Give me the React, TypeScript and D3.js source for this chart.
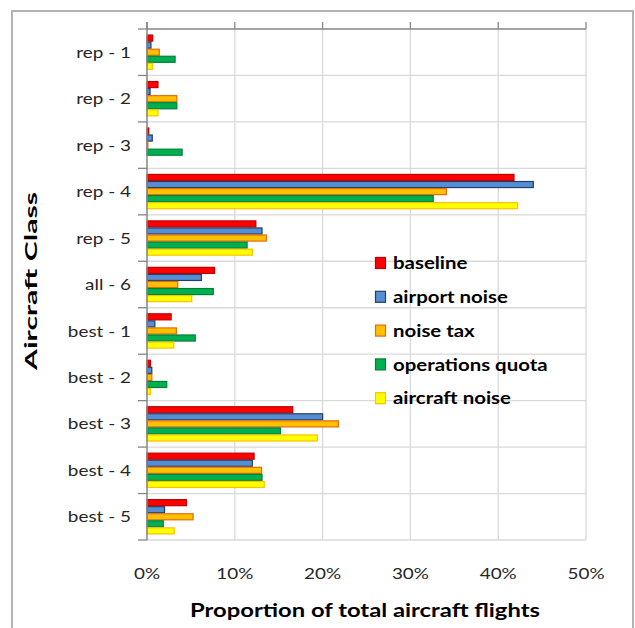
import React from "react";
import * as d3 from "d3";

// Aircraft classes, top to bottom
const categories = [
  "rep - 1", "rep - 2", "rep - 3", "rep - 4", "rep - 5", "all - 6",
  "best - 1", "best - 2", "best - 3", "best - 4", "best - 5",
];

const seriesNames = ["baseline", "airport noise", "noise tax", "operations quota", "aircraft noise"];

// Share of total flights (%) per class, one array per scenario
const baseline = [0.65, 1.25, 0.2, 41.8, 12.4, 7.7, 2.75, 0.4, 16.6, 12.2, 4.5];
const airportNoise = [0.45, 0.35, 0.6, 44.0, 13.1, 6.2, 0.9, 0.55, 20.0, 12.0, 2.0];
const noiseTax = [1.4, 3.4, 0.1, 34.1, 13.6, 3.5, 3.35, 0.55, 21.8, 13.05, 5.25];
const operationsQuota = [3.2, 3.4, 4.0, 32.6, 11.4, 7.55, 5.5, 2.25, 15.2, 13.1, 1.85];
const aircraftNoise = [0.6, 1.25, 0.0, 42.2, 12.0, 5.1, 3.05, 0.4, 19.4, 13.35, 3.1];

const xTicks = [0, 10, 20, 30, 40, 50];

const seriesValues = [baseline, airportNoise, noiseTax, operationsQuota, aircraftNoise];
const fills = ["#ff0000", "#558ed5", "#ffc000", "#00b050", "#ffff00"];
const strokes = ["#c00000", "#254061", "#e46c0a", "#00803a", "#ffc000"];

const W = 635;
const H = 628;
const plot = { left: 147, right: 586, top: 29, bottom: 540 };
const FONT = "Lato, 'Open Sans', sans-serif";

export default function App() {
  const x = d3.scaleLinear().domain([0, 50]).range([plot.left, plot.right]);
  const y = d3
    .scaleBand<string>()
    .domain(categories)
    .range([plot.top, plot.bottom])
    .paddingInner(0.24)
    .paddingOuter(0.12);
  const inner = d3
    .scaleBand<string>()
    .domain(seriesNames)
    .range([0, y.bandwidth()]);
  const step = (plot.bottom - plot.top) / categories.length;
  const boundaries = d3.range(categories.length + 1).map((i) => plot.top + i * step);

  const legendX = 375;
  const legendY0 = 263;
  const legendStep = 33.8;

  return (
    <svg
      width={W}
      height={H}
      style={{ position: "absolute", left: 0, top: 0, background: "#fff" }}
      fontFamily={FONT}
    >
      <rect x={0} y={0} width={W} height={H} fill="#fff" />
      {/* outer chart frame */}
      <rect x={12} y={11} width={621} height={640} fill="none" stroke="#b3b3b3" strokeWidth={2} />

      {/* gridlines */}
      {xTicks.slice(1).map((t) => (
        <line key={"gx" + t} x1={x(t)} x2={x(t)} y1={plot.top} y2={plot.bottom} stroke="#d9d9d9" strokeWidth={1.3} />
      ))}
      {boundaries.slice(1).map((b, i) => (
        <line key={"gy" + i} x1={plot.left} x2={plot.right} y1={b} y2={b} stroke="#d9d9d9" strokeWidth={1.3} />
      ))}

      {/* bars */}
      {seriesNames.map((s, si) =>
        categories.map((c, ci) => {
          const v = seriesValues[si][ci];
          if (v <= 0) return null;
          const y0 = (y(c) as number) + (inner(s) as number);
          return (
            <rect
              key={s + c}
              x={x(0)}
              y={y0 + 0.5}
              width={x(v) - x(0)}
              height={inner.bandwidth() - 1}
              fill={fills[si]}
              stroke={strokes[si]}
              strokeWidth={1.2}
            />
          );
        })
      )}

      {/* value axis drawn along the top, with ticks pointing up */}
      <line x1={plot.left} x2={plot.right} y1={plot.top} y2={plot.top} stroke="#868686" strokeWidth={1.5} />
      {xTicks.map((t) => (
        <line key={"tx" + t} x1={x(t)} x2={x(t)} y1={plot.top - 7} y2={plot.top} stroke="#868686" strokeWidth={1.3} />
      ))}
      {/* category axis */}
      <line x1={plot.left} x2={plot.left} y1={plot.top - 7} y2={plot.bottom} stroke="#868686" strokeWidth={1.5} />
      {boundaries.map((b, i) => (
        <line key={"ty" + i} x1={plot.left - 9} x2={plot.left} y1={b} y2={b} stroke="#868686" strokeWidth={1.3} />
      ))}

      {/* category labels */}
      {categories.map((c) => (
        <text
          key={"l" + c}
          transform={`translate(131, ${(y(c) as number) + y.bandwidth() / 2}) scale(1.22, 1)`}
          dy="0.36em"
          textAnchor="end"
          fontSize={15.5}
          fill="#262626"
        >
          {c}
        </text>
      ))}

      {/* tick labels */}
      {xTicks.map((t) => (
        <text
          key={"xl" + t}
          transform={`translate(${x(t)}, 579) scale(1.26, 1)`}
          textAnchor="middle"
          fontSize={15}
          fill="#262626"
        >
          {t + "%"}
        </text>
      ))}

      {/* axis titles */}
      <text
        x={365}
        y={617}
        textAnchor="middle"
        fontSize={18.5}
        fontWeight="bold"
        fill="#000"
        textLength={350}
        lengthAdjust="spacingAndGlyphs"
      >
        Proportion of total aircraft flights
      </text>
      <text
        transform={`translate(37, 281) rotate(-90)`}
        textAnchor="middle"
        fontSize={17.5}
        fontWeight="bold"
        fill="#000"
        textLength={178}
        lengthAdjust="spacingAndGlyphs"
      >
        Aircraft Class
      </text>

      {/* legend */}
      {seriesNames.map((s, i) => (
        <g key={"lg" + s} transform={`translate(${legendX}, ${legendY0 + i * legendStep})`}>
          <rect x={0.5} y={-5.5} width={10} height={11} fill={fills[i]} stroke={strokes[i]} strokeWidth={1.2} />
          <text transform="translate(18, 0) scale(1.2, 1)" dy="0.36em" fontSize={17} fontWeight="bold" fill="#000">
            {s}
          </text>
        </g>
      ))}
    </svg>
  );
}
